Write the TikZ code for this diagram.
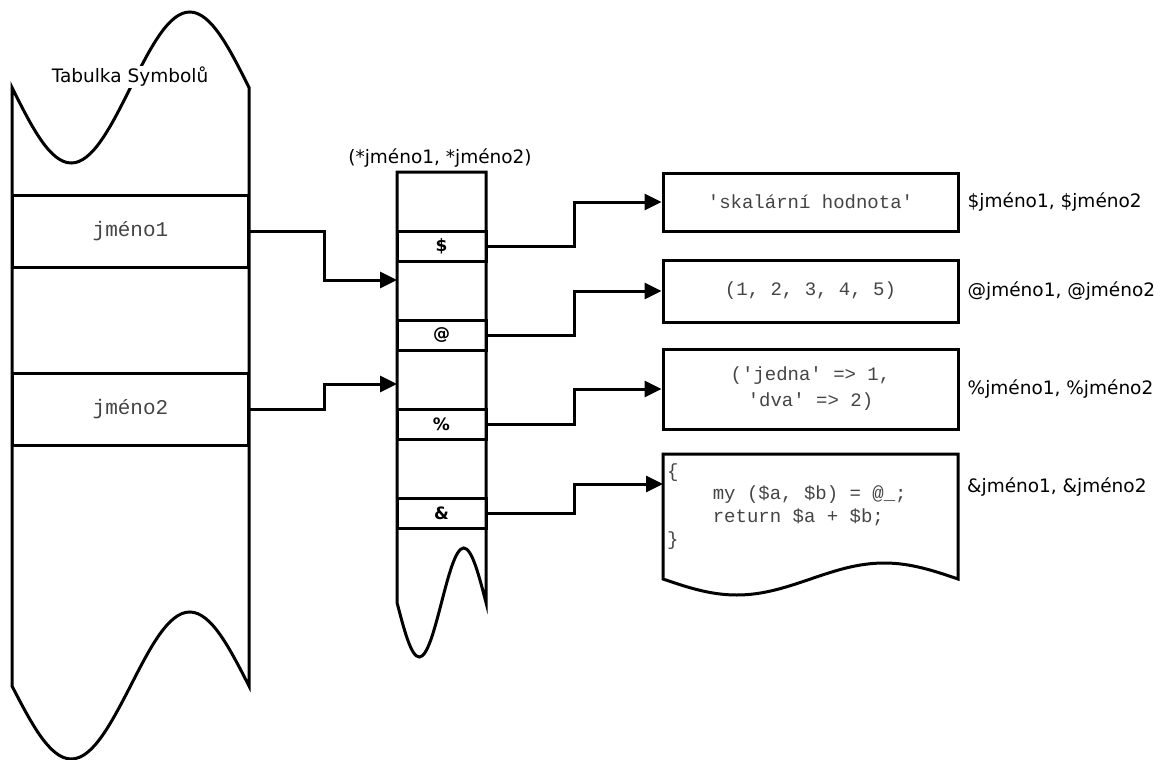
\documentclass[tikz,border=0pt]{standalone}
\usepackage{fontspec}
\setmainfont{DejaVu Sans}
\setmonofont{Liberation Mono}
\usetikzlibrary{arrows.meta,positioning,calc}
\definecolor{symInk}{HTML}{000000}
\definecolor{codeGray}{HTML}{444444}
\newcommand{\labelfont}{\fontsize{18.5}{22}\selectfont}
\newcommand{\codefont}{\ttfamily\fontsize{19}{23}\selectfont}
\newcommand{\namefont}{\ttfamily\fontsize{21}{24}\selectfont}
\newcommand{\sigilfont}{\bfseries\fontsize{17}{20}\selectfont}
\tikzset{
  outline/.style={draw=symInk,line width=3pt,line join=miter},
  rowcell/.style={draw=symInk,line width=3pt,minimum width=236pt,minimum height=72pt,
    inner sep=0pt,font=\namefont,text=codeGray},
  sigilcell/.style={draw=symInk,line width=3pt,minimum width=89pt,minimum height=30pt,
    inner sep=0pt,font=\sigilfont},
  valbox/.style={draw=symInk,line width=3pt,minimum width=295pt,inner sep=0pt,
    font=\codefont,text=codeGray},
  codeline/.style={anchor=base west,inner sep=0pt,font=\codefont,text=codeGray},
  typelabel/.style={anchor=west,inner sep=0pt,font=\labelfont},
  link/.style={draw=symInk,line width=3pt,-{Triangle[length=17pt,width=16pt]}},
}

\begin{document}
\begin{tikzpicture}[x=1pt,y=-1pt]
  \useasboundingbox (0,0) rectangle (1165,760);

  % symbol table
  \draw[outline] (12,87.5) sin (71.25,163) cos (130.5,87.5) sin (189.75,12) cos (249,87.5)
    -- (249,686) sin (189.75,612) cos (130.5,686) sin (71.25,759) cos (12,686) -- cycle;
  \node[rowcell] (r1) at (130.5,231) {jméno1};
  \node[rowcell] (r2) at (130.5,409) {jméno2};
  \node[fill=white,inner sep=1pt,font=\labelfont] (tabtitle) at (130,77) {Tabulka Symbolů};

  % typeglob column
  \draw[outline] (397,172) -- (486,172) -- (486,602.5) sin (463.75,548) cos (441.5,602.5)
    sin (419.25,657) cos (397,602.5) -- cycle;
  \node[font=\labelfont] (globtitle) at (440,158) {(*jméno1, *jméno2)};
  \node[sigilcell] (cS) at (441.5,246) {\$};
  \node[sigilcell] (cA) at (441.5,335) {@};
  \node[sigilcell] (cH) at (441.5,424) {\%};
  \node[sigilcell] (cF) at (441.5,513) {\&};
  \coordinate (in1) at (397,280);
  \coordinate (in2) at (397,384);

  % values
  \node[valbox,minimum height=58pt] (vS) at (810.5,202) {'skalární hodnota'};
  \node[valbox,minimum height=62pt] (vA) at (810.5,291) {(1, 2, 3, 4, 5)};
  \node[valbox,minimum height=80pt,align=center,font=\ttfamily\fontsize{19}{26}\selectfont]
    (vH) at (810.5,389) {('jedna' => 1,\\'dva' => 2)};
  \draw[outline] (663,454) -- (958,454) -- (958,579) sin (884.25,563) cos (810.5,579)
    sin (736.75,595) cos (663,579) -- cycle;
  \coordinate (vF) at (663,484);
  \coordinate (fEast) at (958,487);
  \node[codeline] (code1) at (667,477) {\{};
  \node[codeline] (code2) at (667,499) {\hspace*{45.6pt}my (\$a, \$b) = @\_;};
  \node[codeline] (code3) at (667,522) {\hspace*{45.6pt}return \$a + \$b;};
  \node[codeline] (code4) at (667,545) {\}};

  \node[typelabel,right=8pt of vS] (tS) {\$jméno1, \$jméno2};
  \node[typelabel,right=8pt of vA] (tA) {@jméno1, @jméno2};
  \node[typelabel,right=8pt of vH] (tH) {\%jméno1, \%jméno2};
  \node[typelabel,right=9pt of fEast] (tF) {\&jméno1, \&jméno2};

  % connectors
  \draw[link] (r1.east) -- ++(74,0) |- (in1);
  \draw[link] (r2.east) -- ++(74,0) |- (in2);
  \draw[link] (cS.east) -- ++(87,0) |- (vS.west);
  \draw[link] (cA.east) -- ++(87,0) |- (vA.west);
  \draw[link] (cH.east) -- ++(87,0) |- (vH.west);
  \draw[link] (cF.east) -- ++(87,0) |- (vF);
\end{tikzpicture}
\end{document}
